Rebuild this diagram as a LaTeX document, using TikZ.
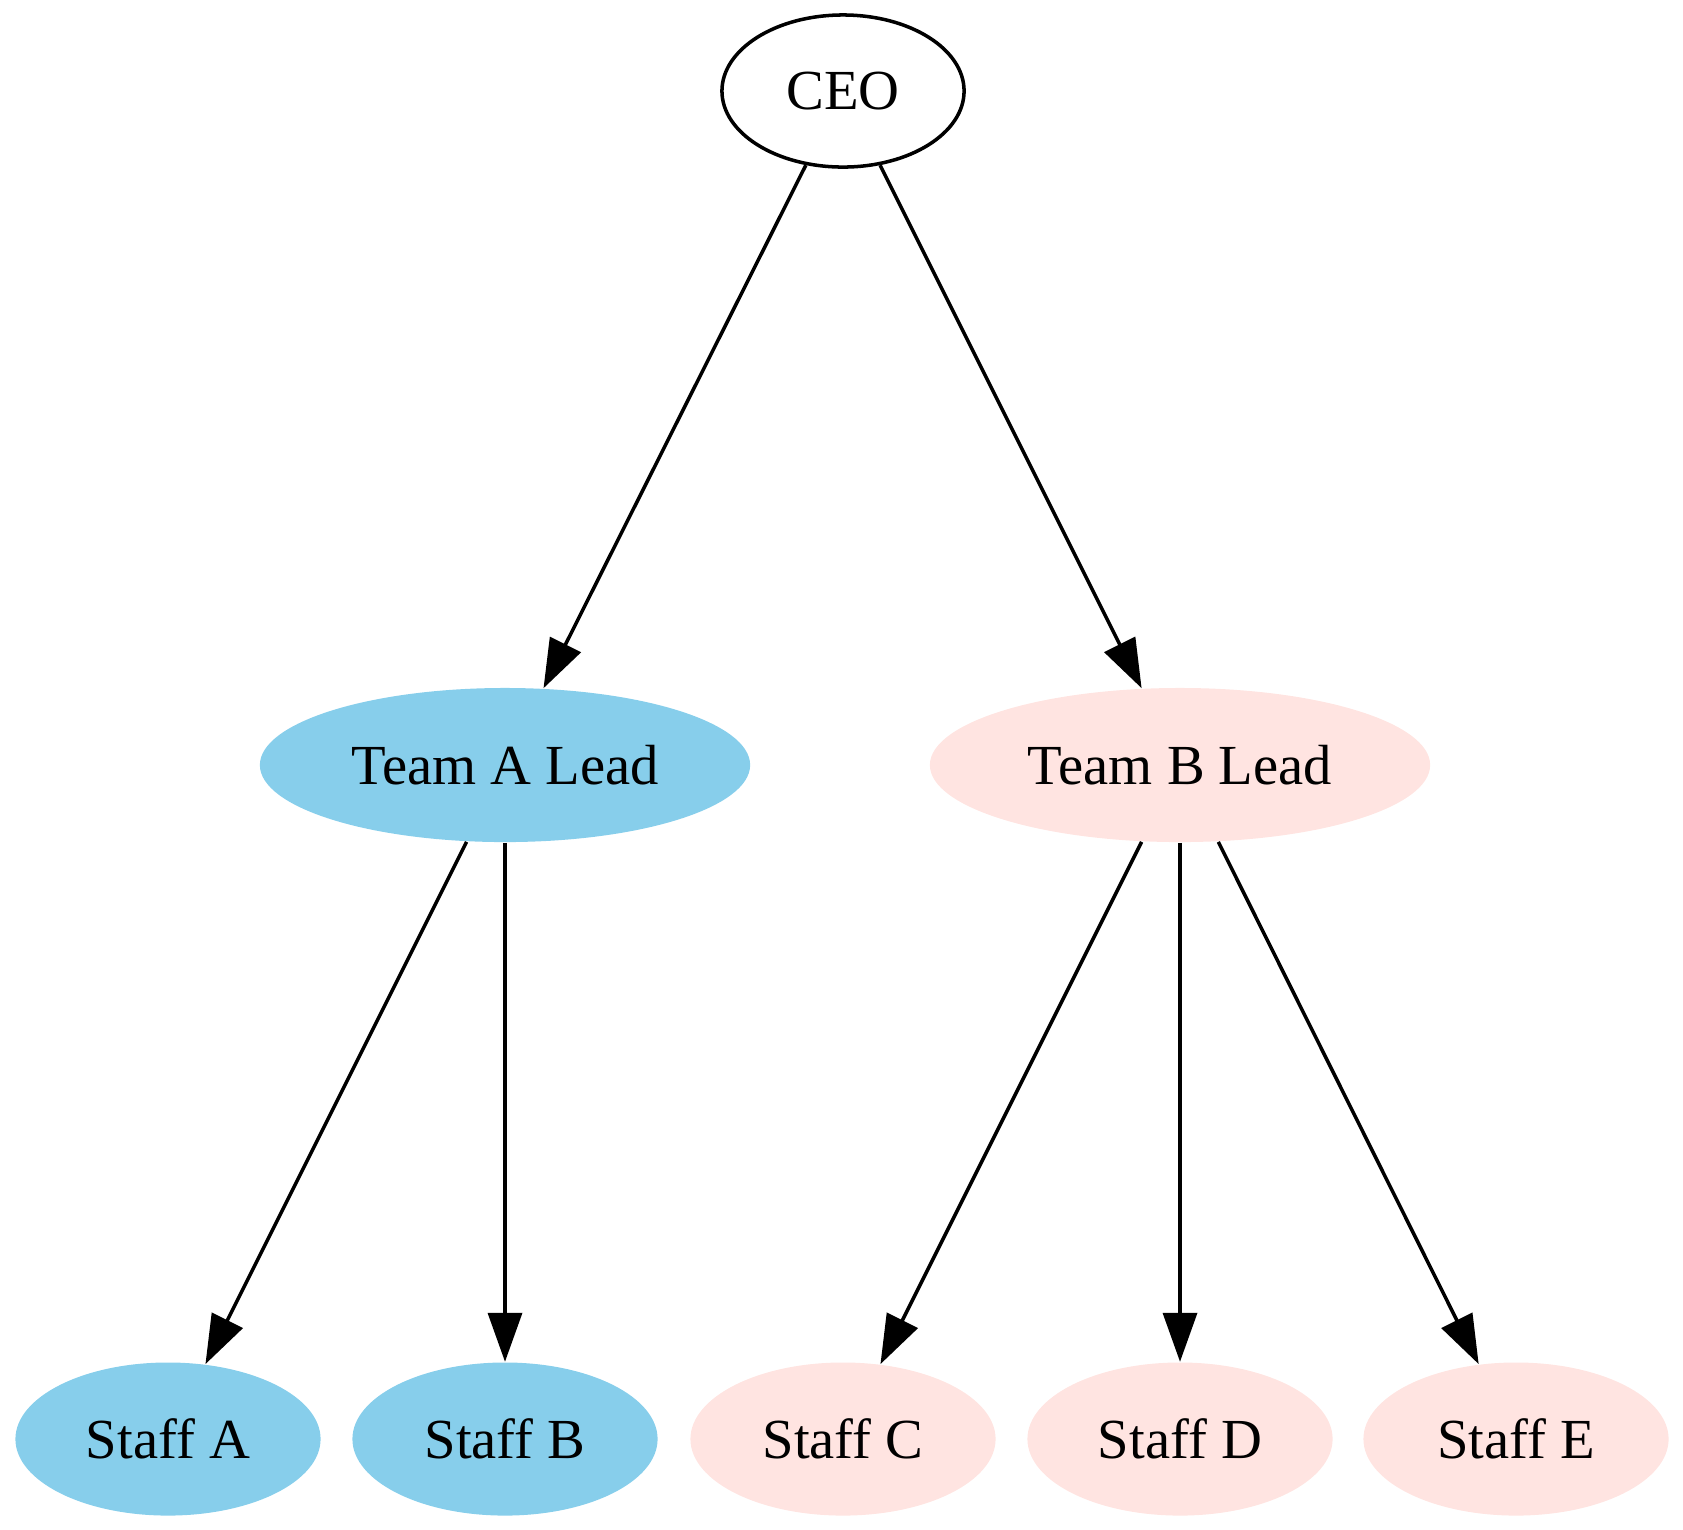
\documentclass[tikz,border=0pt]{standalone}
\usepackage{fontspec}
\setmainfont{Liberation Serif}
\usetikzlibrary{shapes.geometric,arrows.meta}
\definecolor{teamablue}{HTML}{87CEEB}
\definecolor{teambpink}{HTML}{FFE4E1}
\begin{document}
\begin{tikzpicture}[x=0.01cm,y=-0.01cm]
\tikzstyle{every node}+=[inner sep=0pt,font=\fontsize{16.1}{19}\selectfont]
\tikzstyle{boss}=[ellipse,draw=black,line width=1pt,fill=white,minimum width=2.42cm,minimum height=1.52cm]
\tikzstyle{leada}=[ellipse,fill=teamablue,minimum width=4.9cm,minimum height=1.54cm]
\tikzstyle{leadb}=[ellipse,fill=teambpink,minimum width=5.0cm,minimum height=1.54cm]
\tikzstyle{staffa}=[ellipse,fill=teamablue,minimum width=3.05cm,minimum height=1.53cm]
\tikzstyle{staffb}=[ellipse,fill=teambpink,minimum width=3.05cm,minimum height=1.53cm]
\tikzstyle{link}=[draw=black,line width=1pt,-{Triangle[length=0.49cm,width=0.34cm]}]
\useasboundingbox (0,0) rectangle (1683,1529);
\node [boss] (ceo) at (843,91) {CEO};
\node [leada] (leadA) at (505,765) {Team A Lead};
\node [leadb] (leadB) at (1180,765) {Team B Lead};
\node [staffa] (staffA) at (168,1439) {Staff A};
\node [staffa] (staffB) at (505,1439) {Staff B};
\node [staffb] (staffC) at (843,1439) {Staff C};
\node [staffb] (staffD) at (1180,1439) {Staff D};
\node [staffb] (staffE) at (1516,1439) {Staff E};
\draw [link] (ceo) -- (leadA);
\draw [link] (ceo) -- (leadB);
\draw [link] (leadA) -- (staffA);
\draw [link] (leadA) -- (staffB);
\draw [link] (leadB) -- (staffC);
\draw [link] (leadB) -- (staffD);
\draw [link] (leadB) -- (staffE);
\end{tikzpicture}
\end{document}
